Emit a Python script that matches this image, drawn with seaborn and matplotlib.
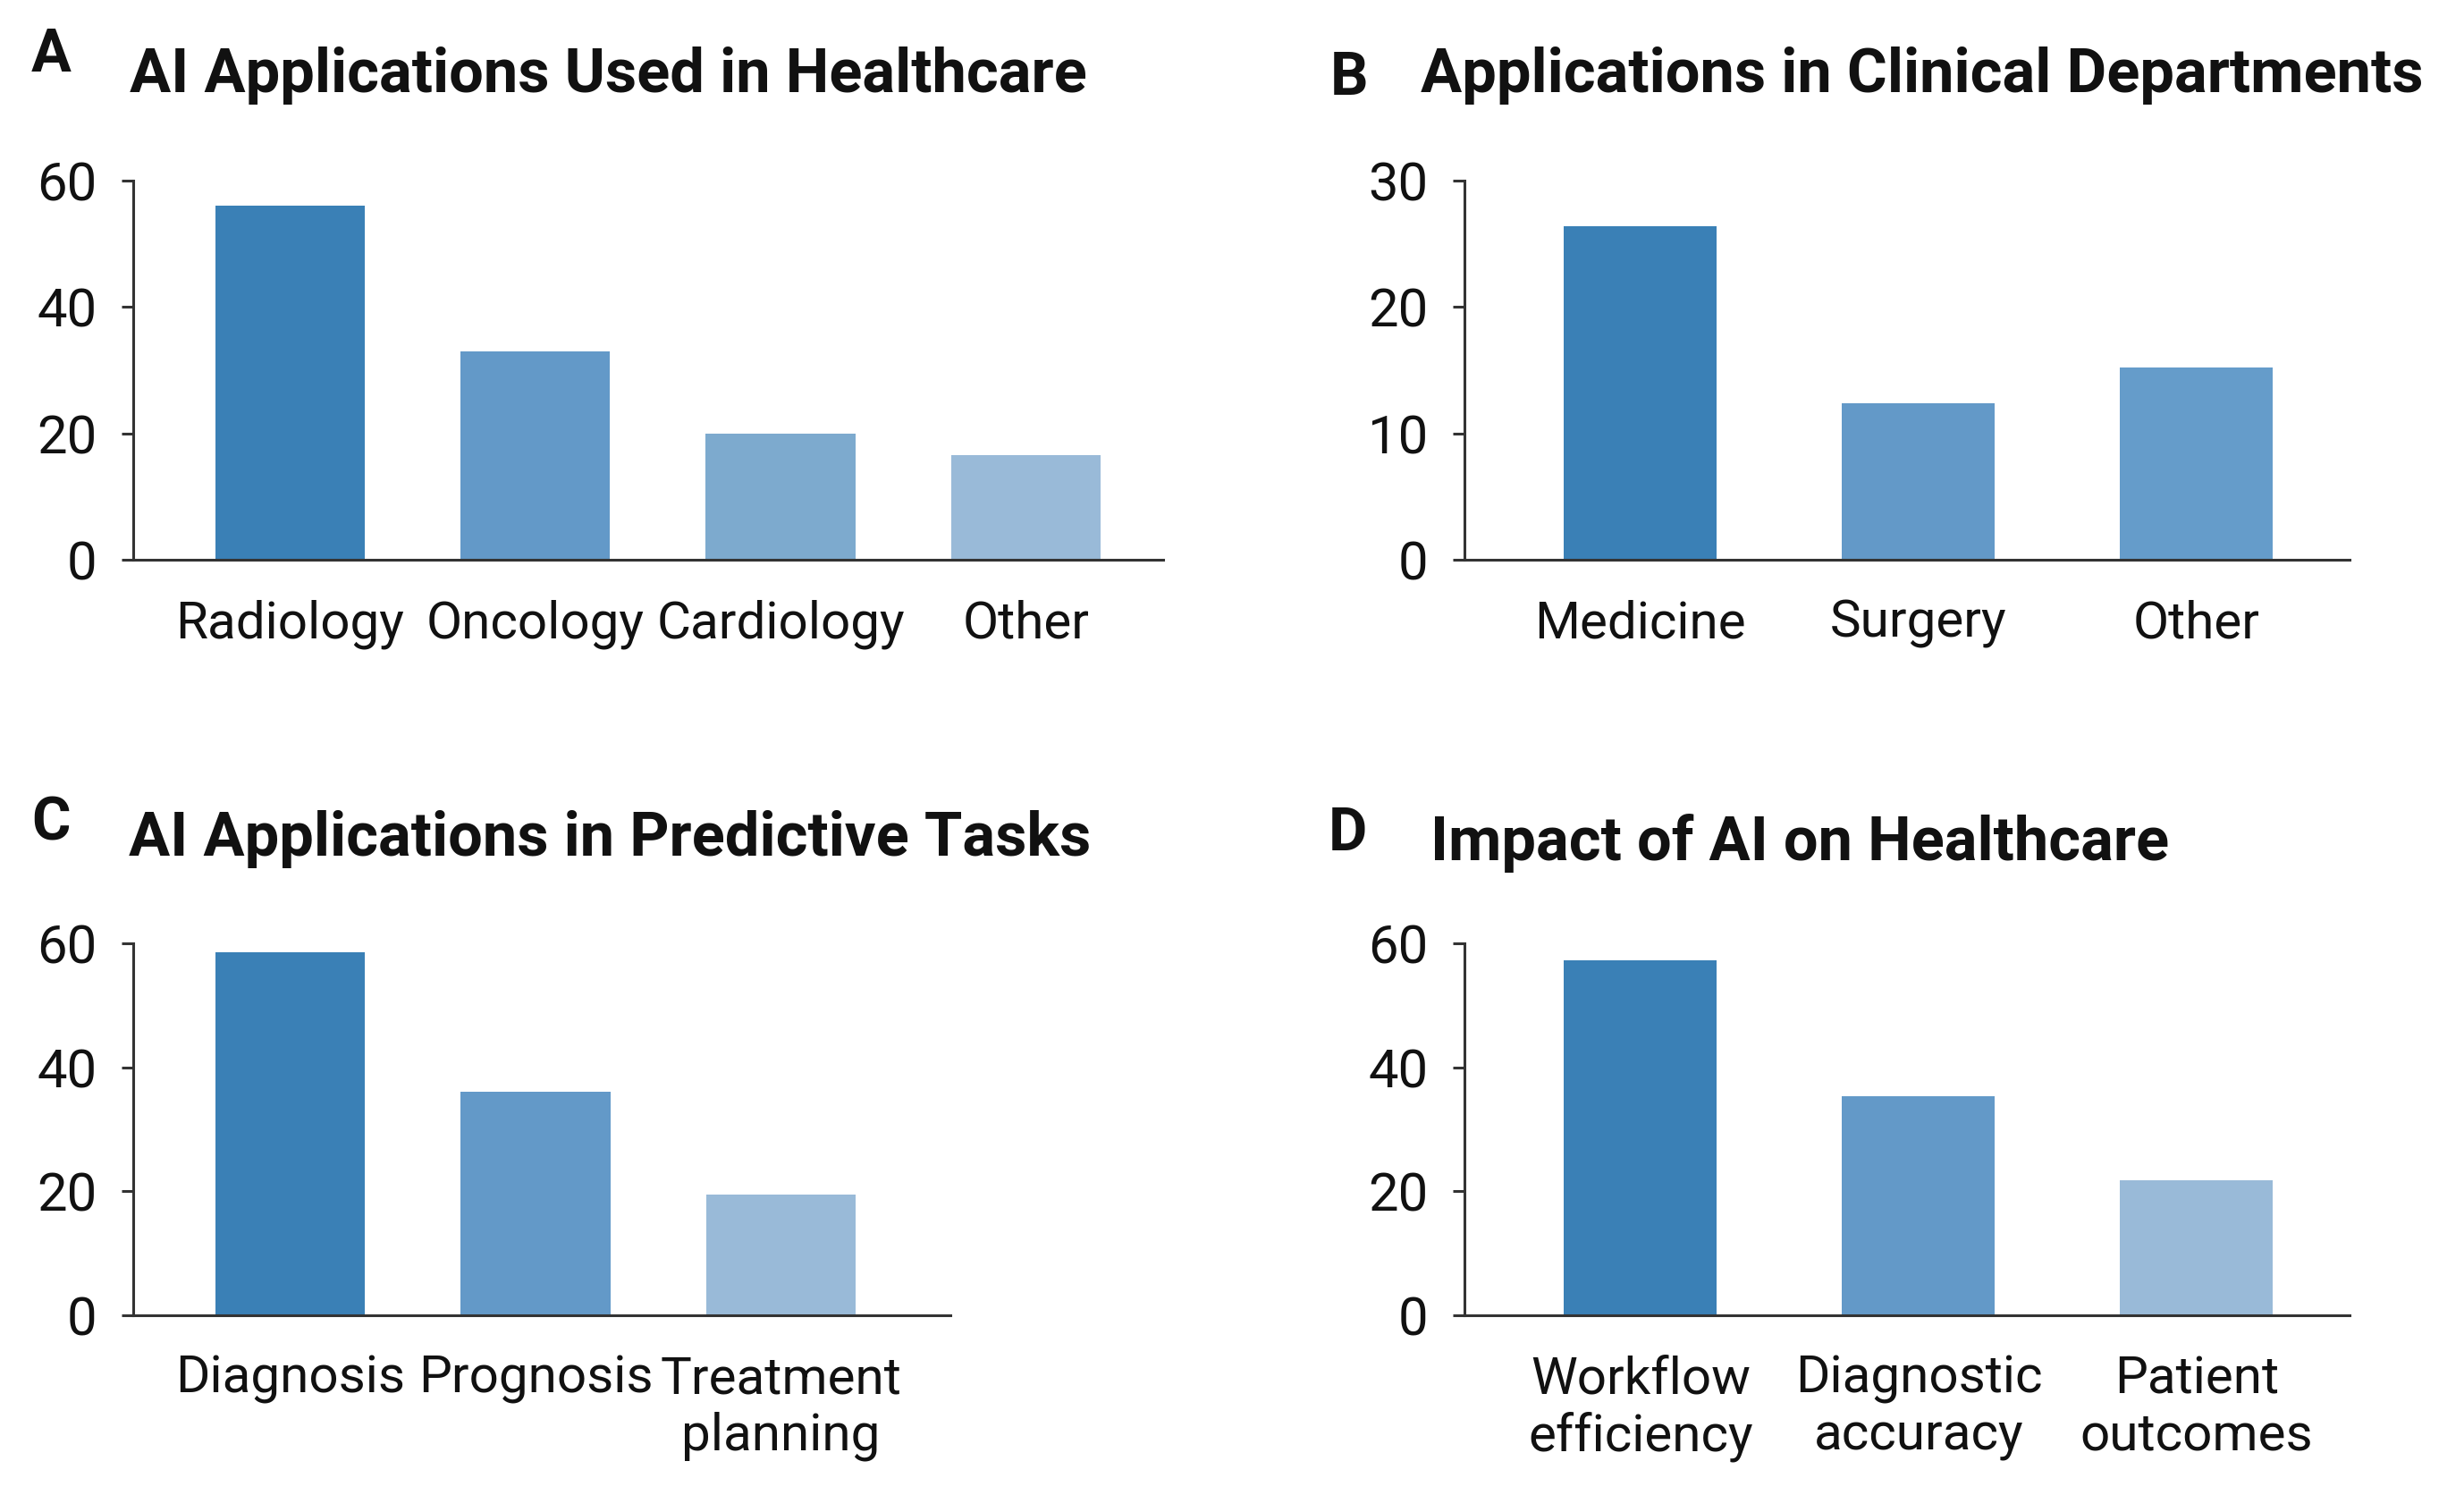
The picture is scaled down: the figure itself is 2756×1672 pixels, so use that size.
import matplotlib
matplotlib.use("Agg")
import matplotlib.pyplot as plt
import seaborn as sns
import pandas as pd

# --- datos ---
cats_a = ["Radiology", "Oncology", "Cardiology", "Other"]
vals_a = [56, 33, 20, 16.5]
cols_a = ["#3a80b6", "#6399c8", "#7daace", "#99bad8"]

cats_b = ["Medicine", "Surgery", "Other"]
vals_b = [26.4, 12.4, 15.2]
cols_b = ["#3a80b6", "#6399c8", "#659cca"]

cats_c = ["Diagnosis", "Prognosis", "Treatment\nplanning"]
vals_c = [58.5, 36, 19.5]
cols_c = ["#3a80b6", "#6399c8", "#99bad8"]

cats_d = ["Workflow\nefficiency", "Diagnostic\naccuracy", "Patient\noutcomes"]
vals_d = [57.2, 35.4, 21.8]
cols_d = ["#3a80b6", "#6399c8", "#99bad8"]

yticks_60 = [0, 20, 40, 60]
yticks_30 = [0, 10, 20, 30]

sns.set_theme(style="white")
plt.rcParams['font.family'] = ['Roboto', 'DejaVu Sans']

W, H = 2756, 1672
fig = plt.figure(figsize=(W / 200, H / 200), dpi=200)


def panel(rect, cats, vals, cols, yticks, xlim, width):
    ax = fig.add_axes(rect)
    df = pd.DataFrame({"cat": cats, "val": vals})
    sns.barplot(data=df, x="cat", y="val", hue="cat", palette=cols,
                legend=False, width=width, ax=ax, saturation=1,
                edgecolor="none")
    ax.set_xlim(*xlim)
    ax.set_ylim(yticks[0], yticks[-1])
    ax.set_yticks(yticks)
    ax.set_xlabel("")
    ax.set_ylabel("")
    sns.despine(ax=ax)
    for s in ["left", "bottom"]:
        ax.spines[s].set_color("#333333")
        ax.spines[s].set_linewidth(1.1)
    ax.tick_params(axis="y", length=4.7, width=1.1, color="#333333",
                   pad=10, labelsize=21.5, labelcolor="#111111", left=True)
    ax.tick_params(axis="x", length=0, pad=16, labelsize=21,
                   labelcolor="#111111")
    for lab in ax.get_xticklabels():
        lab.set_linespacing(1.18)
    return ax


def fx(px):
    return px / W


def fy(px):
    return 1 - px / H


# ejes en pixeles de la figura
panel([fx(149), fy(626), fx(1152), (626 - 202) / H], cats_a, vals_a, cols_a,
      yticks_60, (-0.64, 3.56), 0.61)
panel([fx(1638), fy(626), fx(990), (626 - 202) / H], cats_b, vals_b, cols_b,
      yticks_30, (-0.633, 2.55), 0.55)
panel([fx(149), fy(1471), fx(914), (1471 - 1055) / H], cats_c, vals_c, cols_c,
      yticks_60, (-0.64, 2.69), 0.61)
panel([fx(1638), fy(1471), fx(990), (1471 - 1055) / H], cats_d, vals_d, cols_d,
      yticks_60, (-0.633, 2.55), 0.55)

# letras y titulos
letras = [("A", 35, 80), ("B", 1488, 106), ("C", 35, 940), ("D", 1486, 951)]
for txt, x, y in letras:
    fig.text(fx(x), fy(y), txt, fontsize=24, fontweight="bold",
             color="#111111", va="baseline", ha="left")

titulos = [("AI Applications Used in Healthcare", 145, 103),
           ("Applications in Clinical Departments", 1589, 103),
           ("AI Applications in Predictive Tasks", 144, 957),
           ("Impact of AI on Healthcare", 1600, 962)]
for txt, x, y in titulos:
    fig.text(fx(x), fy(y), txt, fontsize=24.7, fontweight="bold",
             color="#111111", va="baseline", ha="left")

fig.savefig("out.png", dpi=200, facecolor="white")
